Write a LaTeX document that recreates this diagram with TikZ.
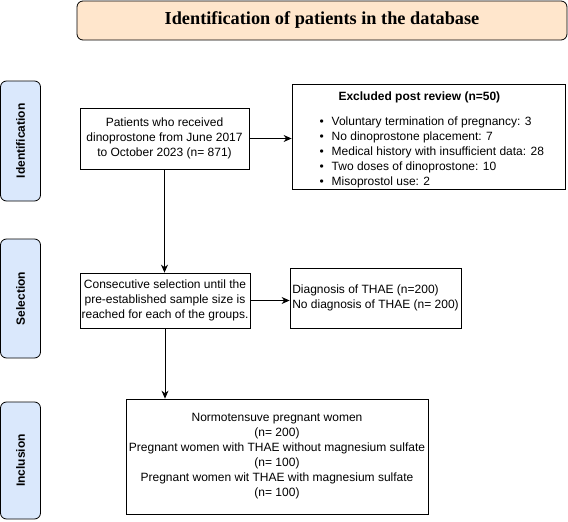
\documentclass[tikz,border=0pt]{standalone}
\usepackage{fontspec}
\setmainfont{Liberation Sans}
\newfontfamily\titlefont{Liberation Serif}
\usetikzlibrary{arrows.meta,calc}
\definecolor{peach}{HTML}{FFE6CC}
\definecolor{lblue}{HTML}{DAE8FC}
\tikzset{
  every node/.style={font=\fontsize{12}{15}\selectfont},
  box/.style={draw=black, line width=0.8pt, fill=white, inner sep=0pt, align=center},
  sidebox/.style={draw=black, line width=0.8pt, fill=lblue, rounded corners=6pt, minimum width=40pt, inner sep=0pt},
  sidetext/.style={font=\fontsize{12}{15}\selectfont\bfseries, rotate=90},
  arr/.style={draw=black, line width=0.8pt, -{Stealth[length=8pt,width=7pt]}}
}
\begin{document}
\begin{tikzpicture}[x=1pt,y=-1pt]
\useasboundingbox (0,0) rectangle (568,522);
% title
\node[draw=black, line width=0.8pt, fill=peach, rounded corners=6pt, minimum width=490pt, minimum height=39pt, inner sep=0pt,
      font=\titlefont\fontsize{18.3}{21}\selectfont\bfseries] (title) at (322,20.5) {Identification of patients in the database};
% side labels
\node[sidebox, minimum height=120pt] (sident) at (20.5,141) {};
\node[sidetext] (sidentt) at (sident.center) {Identification};
\node[sidebox, minimum height=119pt] (ssel) at (20.5,298.5) {};
\node[sidetext] (sselt) at (ssel.center) {Selection};
\node[sidebox, minimum height=117pt] (sinc) at (20.5,460.5) {};
\node[sidetext] (sinct) at (sinc.center) {Inclusion};
% main boxes
\node[box, minimum width=169pt, minimum height=61pt] (patients) at (164.5,138.5)
  {Patients who received\\dinoprostone from June 2017\\to October 2023 (n= 871)};
\node[box, minimum width=273pt, minimum height=105pt] (excl) at (428.5,136.5) {};
\node[inner sep=0pt, align=left] (exclt) at (432.5,139.5) {%
  \parbox{226pt}{\raggedright\hspace*{19pt}\textbf{Excluded post review (n=50)}\par\vspace{10pt}%
  \textbullet\hspace{8pt}Voluntary termination of pregnancy: 3\\
  \textbullet\hspace{8pt}No dinoprostone placement: 7\\
  \textbullet\hspace{8pt}Medical history with insufficient data: 28\\
  \textbullet\hspace{8pt}Two doses of dinoprostone: 10\\
  \textbullet\hspace{8pt}Misoprostol use: 2}};
\node[box, minimum width=170pt, minimum height=55pt] (selbox) at (165,300.5)
  {Consecutive selection until the\\pre-established sample size is\\reached for each of the groups.};
\node[box, minimum width=171pt, minimum height=60pt, align=left] (diag) at (375.5,298)
  {Diagnosis of THAE (n=200)\\No diagnosis of THAE (n= 200)};
\node[box, minimum width=302pt, minimum height=115pt] (incbox) at (277,456.5)
  {Normotensuve pregnant women\\(n= 200)\\Pregnant women with THAE without magnesium sulfate\\(n= 100)\\Pregnant women wit THAE with magnesium sulfate\\(n= 100)};
% connectors
\draw[arr] (patients.east) -- (patients.east -| excl.west);
\draw[arr] (patients.south) -- (patients.south |- selbox.north);
\draw[arr] (selbox.east) -- (selbox.east -| diag.west);
\draw[arr] (selbox.south) -- (selbox.south |- incbox.north);
\end{tikzpicture}
\end{document}
